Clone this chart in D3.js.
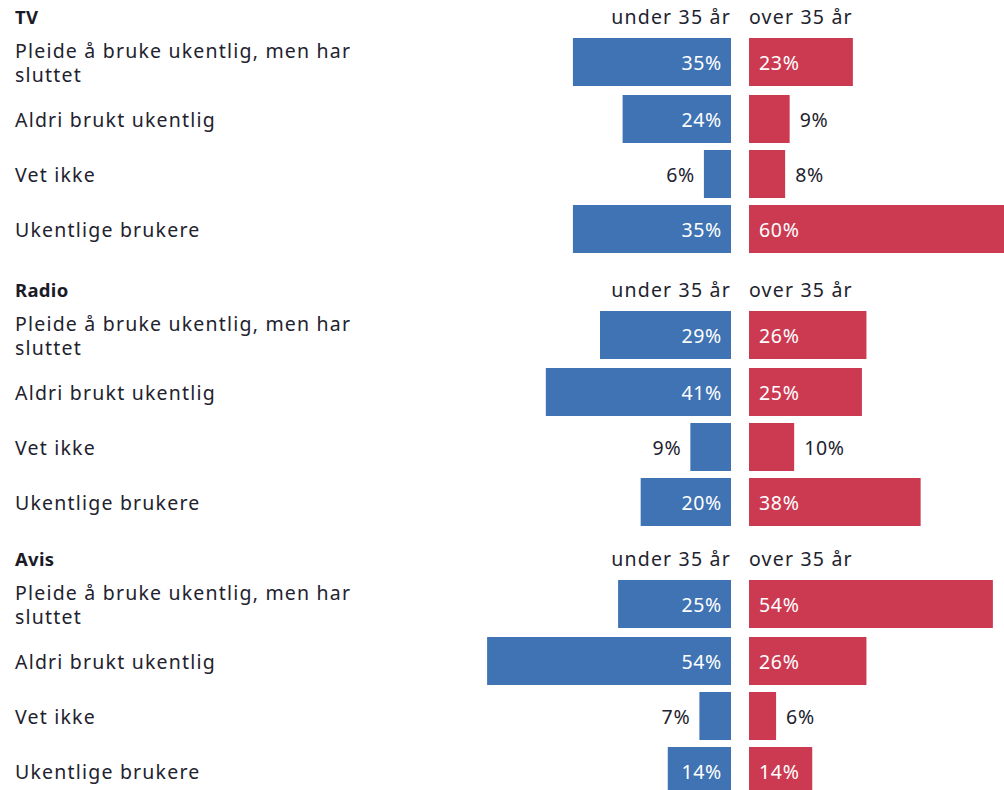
<!DOCTYPE html>
<html>
<head>
<meta charset="utf-8">
<script src="https://cdn.jsdelivr.net/npm/d3@7"></script>
<style>
  html, body { margin: 0; padding: 0; background: #fff; }
  svg { display: block; font-family: "Noto Sans", sans-serif; }
</style>
</head>
<body>
<svg id="chart" width="1004" height="790"></svg>
<script>
// ---- Data ----
const media = ["TV", "Radio", "Avis"];
const categories = [
  "Pleide å bruke ukentlig, men har sluttet",
  "Aldri brukt ukentlig",
  "Vet ikke",
  "Ukentlige brukere"
];
const groups = ["under 35 år", "over 35 år"];
const under35 = [
  [35, 24, 6, 35],   // TV
  [29, 41, 9, 20],   // Radio
  [25, 54, 7, 14]    // Avis
];
const over35 = [
  [23, 9, 8, 60],    // TV
  [26, 25, 10, 38],  // Radio
  [54, 26, 6, 14]    // Avis
];

// ---- Layout ----
const blue = "#4073b4", red = "#cc3a51", textCol = "#22222e";
const fontSize = 19.5;
const ls = 1.2;       // letter spacing for labels
const lsNum = 0.7;    // letter spacing for values
const centerLeft = 731, centerRight = 749;
const sectionTops = [38, 311, 580];
const barH = 48;
const labelX = 15;
const wrapWidth = 375;
const baseOff = 7.8;

const svg = d3.select("#chart");
const x = d3.scaleLinear().domain([0, 60]).range([0, 271]);

const measure = svg.append("text").attr("font-size", fontSize).attr("visibility", "hidden");
function textW(s, sp) { measure.attr("letter-spacing", sp).text(s); return measure.node().getComputedTextLength(); }

function wrap(s) {
  const words = s.split(" ");
  const lines = [];
  let cur = "";
  words.forEach(w => {
    const t = cur ? cur + " " + w : w;
    if (textW(t, ls) > wrapWidth && cur) { lines.push(cur); cur = w; }
    else cur = t;
  });
  if (cur) lines.push(cur);
  return lines;
}

const fmt = v => v + "%";

media.forEach((m, si) => {
  const g = svg.append("g");
  const top0 = sectionTops[si];

  g.append("text")
    .attr("x", labelX).attr("y", top0 - 14.5)
    .attr("font-size", 18.5).attr("font-weight", 700)
    .attr("letter-spacing", 0.3)
    .attr("fill", "#1b1b28")
    .text(m);
  g.append("text")
    .attr("x", centerLeft).attr("y", top0 - 14.5)
    .attr("text-anchor", "end")
    .attr("font-size", fontSize).attr("fill", textCol)
    .attr("letter-spacing", ls)
    .text(groups[0]);
  g.append("text")
    .attr("x", centerRight).attr("y", top0 - 14.5)
    .attr("font-size", fontSize).attr("fill", textCol)
    .attr("letter-spacing", ls)
    .text(groups[1]);

  let y = top0;
  categories.forEach((c, ci) => {
    const lines = wrap(c);
    const cy = y + barH / 2;
    const lh = 24.4;

    const t = g.append("text")
      .attr("x", labelX)
      .attr("font-size", fontSize).attr("fill", textCol)
      .attr("letter-spacing", ls);
    lines.forEach((ln, li) => {
      t.append("tspan")
        .attr("x", labelX)
        .attr("y", cy + baseOff + (li - (lines.length - 1) / 2) * lh)
        .text(ln);
    });

    const vu = under35[si][ci];
    const wu = x(vu);
    g.append("rect")
      .attr("x", centerLeft - wu).attr("y", y)
      .attr("width", wu).attr("height", barH)
      .attr("fill", blue);
    const lu = fmt(vu);
    const insideU = wu > textW(lu, lsNum) + 20;
    g.append("text")
      .attr("x", insideU ? centerLeft - 9 : centerLeft - wu - 9)
      .attr("y", cy + baseOff)
      .attr("text-anchor", "end")
      .attr("font-size", fontSize)
      .attr("letter-spacing", lsNum)
      .attr("fill", insideU ? "#fff" : textCol)
      .text(lu);

    const vo = over35[si][ci];
    const wo = x(vo);
    g.append("rect")
      .attr("x", centerRight).attr("y", y)
      .attr("width", wo).attr("height", barH)
      .attr("fill", red);
    const lo = fmt(vo);
    const insideO = wo > textW(lo, lsNum) + 20;
    g.append("text")
      .attr("x", insideO ? centerRight + 10 : centerRight + wo + 10)
      .attr("y", cy + baseOff)
      .attr("font-size", fontSize)
      .attr("letter-spacing", lsNum)
      .attr("fill", insideO ? "#fff" : textCol)
      .text(lo);

    y += 55 + (lines.length - 1) * 2;
  });
});
measure.remove();
</script>
</body>
</html>
